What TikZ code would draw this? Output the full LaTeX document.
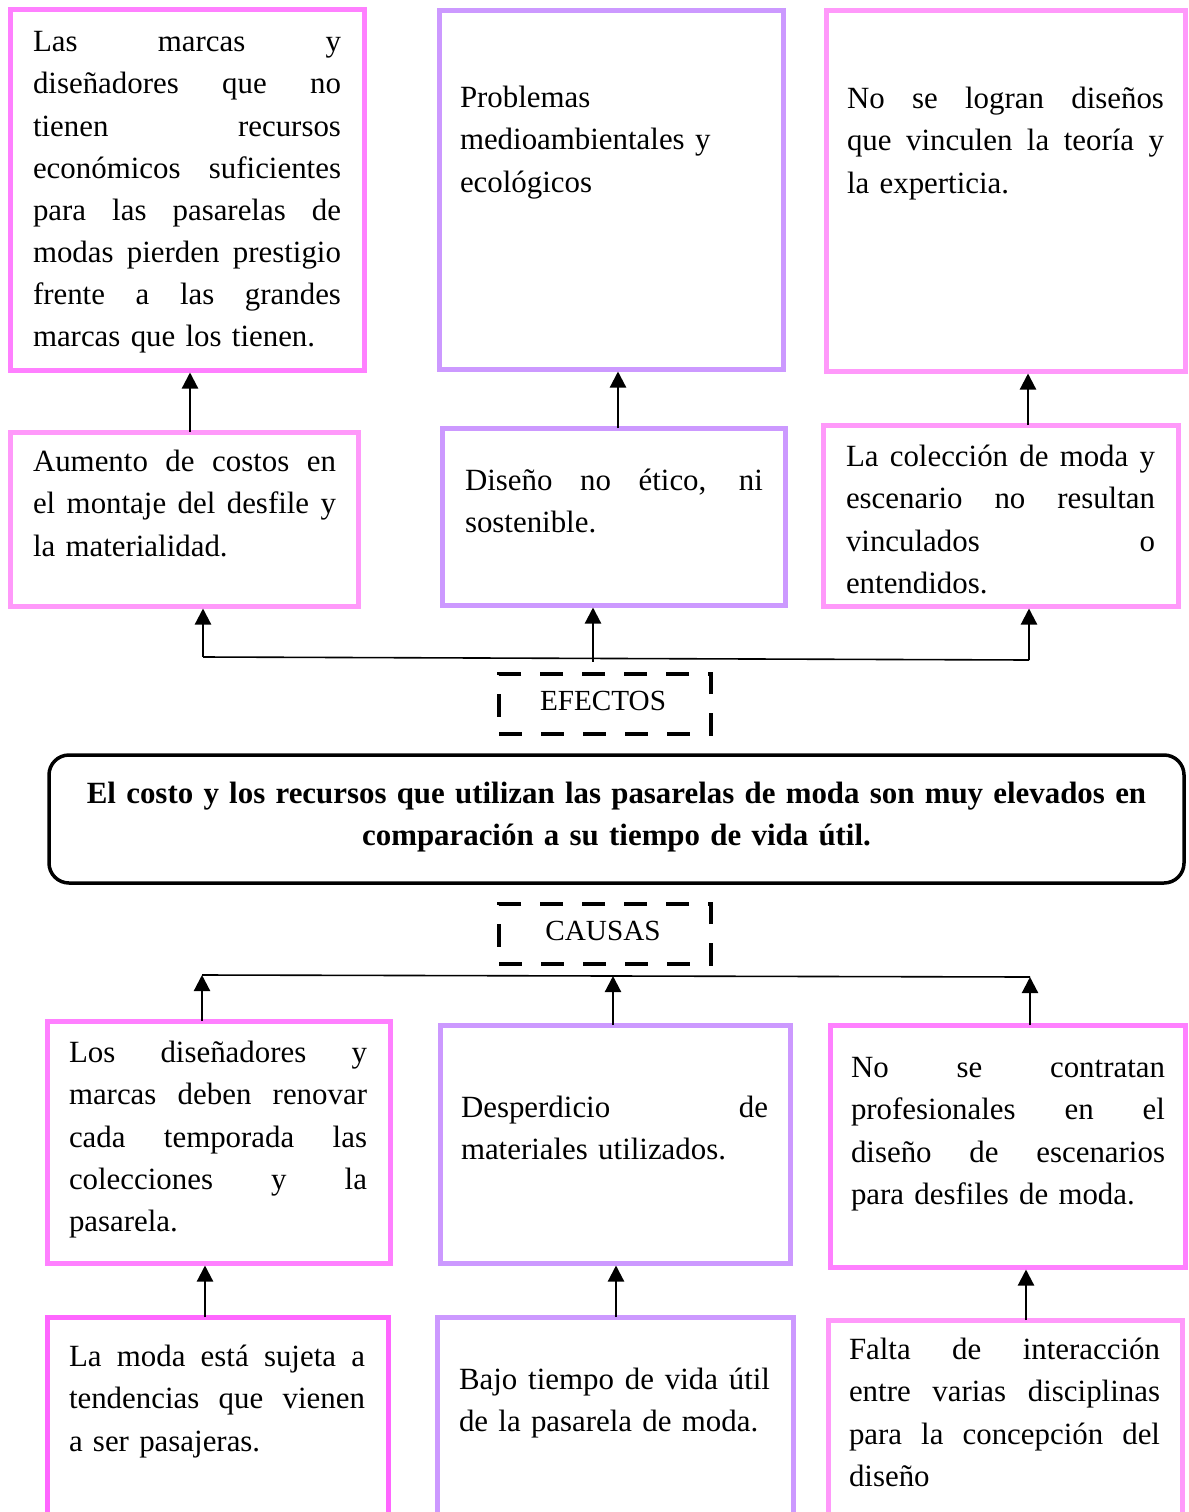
\documentclass[tikz,border=0pt]{standalone}
\usepackage{fontspec}
\setmainfont{Liberation Serif}
\usetikzlibrary{arrows.meta}
\definecolor{pinkA}{HTML}{FF80FF}
\definecolor{pinkL}{HTML}{FF99FA}
\definecolor{pinkD}{HTML}{FF66FF}
\definecolor{purp}{HTML}{CC99FF}
\newlength\tw
\newcommand\J[1]{\leavevmode\hbox to\tw{\strut\spaceskip=0.25em plus 20em minus 0.05em\relax #1}}
\newcommand\mybox[6]{\node[#1, minimum width={(#5-#3)*1bp}, minimum height={(#6-#4)*1bp}, anchor=north west] (#2) at (#3,#4) {};}
\tikzset{
  cbox/.style={draw=#1, line width=5bp, inner sep=0pt, outer sep=0pt, rectangle},
  txt/.style={inner sep=0pt, outer sep=0pt, anchor=north west, align=left, text width=#1, font=\fontsize{31pt}{42.2pt}\selectfont},
  arr/.style={line width=2.2bp, -{Triangle[width=16bp,length=16bp]}},
  hl/.style={line width=1.6bp},
  dbox/.style={draw, line width=4.2bp, dash pattern=on 23bp off 19bp, inner sep=0pt, minimum width=212bp, minimum height=60bp},
}
\begin{document}
\begin{tikzpicture}[x=1bp,y=-1bp]
\fill[white] (0,0) rectangle (1188,1512);
\useasboundingbox (0,0) rectangle (1188,1512);

% boxes
\mybox{cbox=pinkA}{a1}{10}{10}{364}{370}
\mybox{cbox=purp}{a2}{439}{11}{783}{369}
\mybox{cbox=pinkL}{a3}{826}{11}{1185}{371}
\mybox{cbox=pinkL}{b1}{10}{432}{358}{606}
\mybox{cbox=purp}{b2}{442}{428}{785}{605}
\mybox{cbox=pinkL}{b3}{823}{425}{1178}{606}
\mybox{cbox=pinkA}{c1}{47}{1021}{390}{1263}
\mybox{cbox=purp}{c2}{440}{1025}{790}{1263}
\mybox{cbox=pinkA}{c3}{830}{1025}{1185}{1267}
\mybox{cbox=pinkD}{d1}{47}{1317}{388}{1530}
\mybox{cbox=purp}{d2}{437}{1317}{793}{1530}
\mybox{cbox=pinkL}{d3}{828}{1320}{1182}{1530}

% central problem
\node[draw, line width=3.5bp, rounded corners=20bp, inner sep=0pt, outer sep=0pt, minimum width=1135bp, minimum height=128bp, anchor=north west] (prob) at (49,755) {};
\node[inner sep=0pt, anchor=north, text width=1140bp, align=center, font=\fontsize{31pt}{42.2pt}\selectfont\bfseries] (probt) at (616.5,773.5)
 {\strut El costo y los recursos que utilizan las pasarelas de moda son muy elevados en\\ comparación a su tiempo de vida útil.};

% dashed labels
\node[dbox, anchor=north west] (efb) at (497,672) {};
\node[inner sep=0pt, anchor=base, font=\fontsize{29.3pt}{35pt}\selectfont] (ef) at (603,710) {EFECTOS};
\node[dbox, anchor=north west] (cab) at (497,902) {};
\node[inner sep=0pt, anchor=base, font=\fontsize{29.3pt}{35pt}\selectfont] (ca) at (603,940) {CAUSAS};

% texts
\node[txt=308bp] (ta1) at (33,22.5) {\setlength\tw{308bp}\J{Las marcas y}\\ \J{diseñadores que no}\\ \J{tienen recursos}\\ \J{económicos suficientes}\\ \J{para las pasarelas de}\\ \J{modas pierden prestigio}\\ \J{frente a las grandes}\\ \strut marcas que los tienen.};
\node[txt=300bp] (ta2) at (460,78.5) {\strut Problemas\\ \strut medioambientales y\\ \strut ecológicos};
\node[txt=317bp] (ta3) at (847,79.5) {\setlength\tw{317bp}\J{No se logran diseños}\\ \J{que vinculen la teoría y}\\ \strut la experticia.};
\node[txt=303bp] (tb1) at (33,442.5) {\setlength\tw{303bp}\J{Aumento de costos en}\\ \J{el montaje del desfile y}\\ \strut la materialidad.};
\node[txt=298bp] (tb2) at (465,461.5) {\setlength\tw{298bp}\J{Diseño no ético, ni}\\ \strut sostenible.};
\node[txt=309bp] (tb3) at (846,437.5) {\setlength\tw{309bp}\J{La colección de moda y}\\ \J{escenario no resultan}\\ \J{vinculados o}\\ \strut entendidos.};
\node[txt=298bp] (tc1) at (69,1033.5) {\setlength\tw{298bp}\J{Los diseñadores y}\\ \J{marcas deben renovar}\\ \J{cada temporada las}\\ \J{colecciones y la}\\ \strut pasarela.};
\node[txt=307bp] (tc2) at (461,1088.5) {\setlength\tw{307bp}\J{Desperdicio de}\\ \strut materiales utilizados.};
\node[txt=314bp] (tc3) at (851,1048.5) {\setlength\tw{314bp}\J{No se contratan}\\ \J{profesionales en el}\\ \J{diseño de escenarios}\\ \strut para desfiles de moda.};
\node[txt=296bp] (td1) at (69,1337.5) {\setlength\tw{296bp}\J{La moda está sujeta a}\\ \J{tendencias que vienen}\\ \strut a ser pasajeras.};
\node[txt=311bp] (td2) at (459,1360.5) {\setlength\tw{311bp}\J{Bajo tiempo de vida útil}\\ \strut de la pasarela de moda.};
\node[txt=311bp] (td3) at (849,1330.5) {\setlength\tw{311bp}\J{Falta de interacción}\\ \J{entre varias disciplinas}\\ \J{para la concepción del}\\ \strut diseño};

% arrow x positions
\coordinate (x1) at (190,0);
\coordinate (x2) at (618,0);
\coordinate (x3) at (1028,0);
\coordinate (e1) at (203,657);
\coordinate (e2) at (593,658.5);
\coordinate (e3) at (1029,660);
\coordinate (k1) at (202,975);
\coordinate (k2) at (613,976);
\coordinate (k3) at (1030,977);
\coordinate (y1) at (205,0);
\coordinate (y2) at (616,0);
\coordinate (y3) at (1026,0);

% effects
\draw[arr, shorten >=2.5bp] (b1.north -| x1) -- (a1.south -| x1);
\draw[arr, shorten >=2.5bp] (b2.north -| x2) -- (a2.south -| x2);
\draw[arr, shorten >=2.5bp] (b3.north -| x3) -- (a3.south -| x3);
\draw[hl] (e1) -- (e3);
\draw[arr, shorten >=2.5bp] (e1) -- (b1.south -| e1);
\draw[arr, shorten >=2.5bp] ([yshift=-3bp]e2) -- (b2.south -| e2);
\draw[arr, shorten >=2.5bp] (e3) -- (b3.south -| e3);

% causes
\draw[hl] (k1) -- (k3);
\draw[arr] (c1.north -| k1) -- (k1);
\draw[arr] (c2.north -| k2) -- (k2);
\draw[arr] (c3.north -| k3) -- (k3);
\draw[arr, shorten >=2.5bp] (d1.north -| y1) -- (c1.south -| y1);
\draw[arr, shorten >=2.5bp] (d2.north -| y2) -- (c2.south -| y2);
\draw[arr, shorten >=2.5bp] (d3.north -| y3) -- (c3.south -| y3);
\end{tikzpicture}
\end{document}
